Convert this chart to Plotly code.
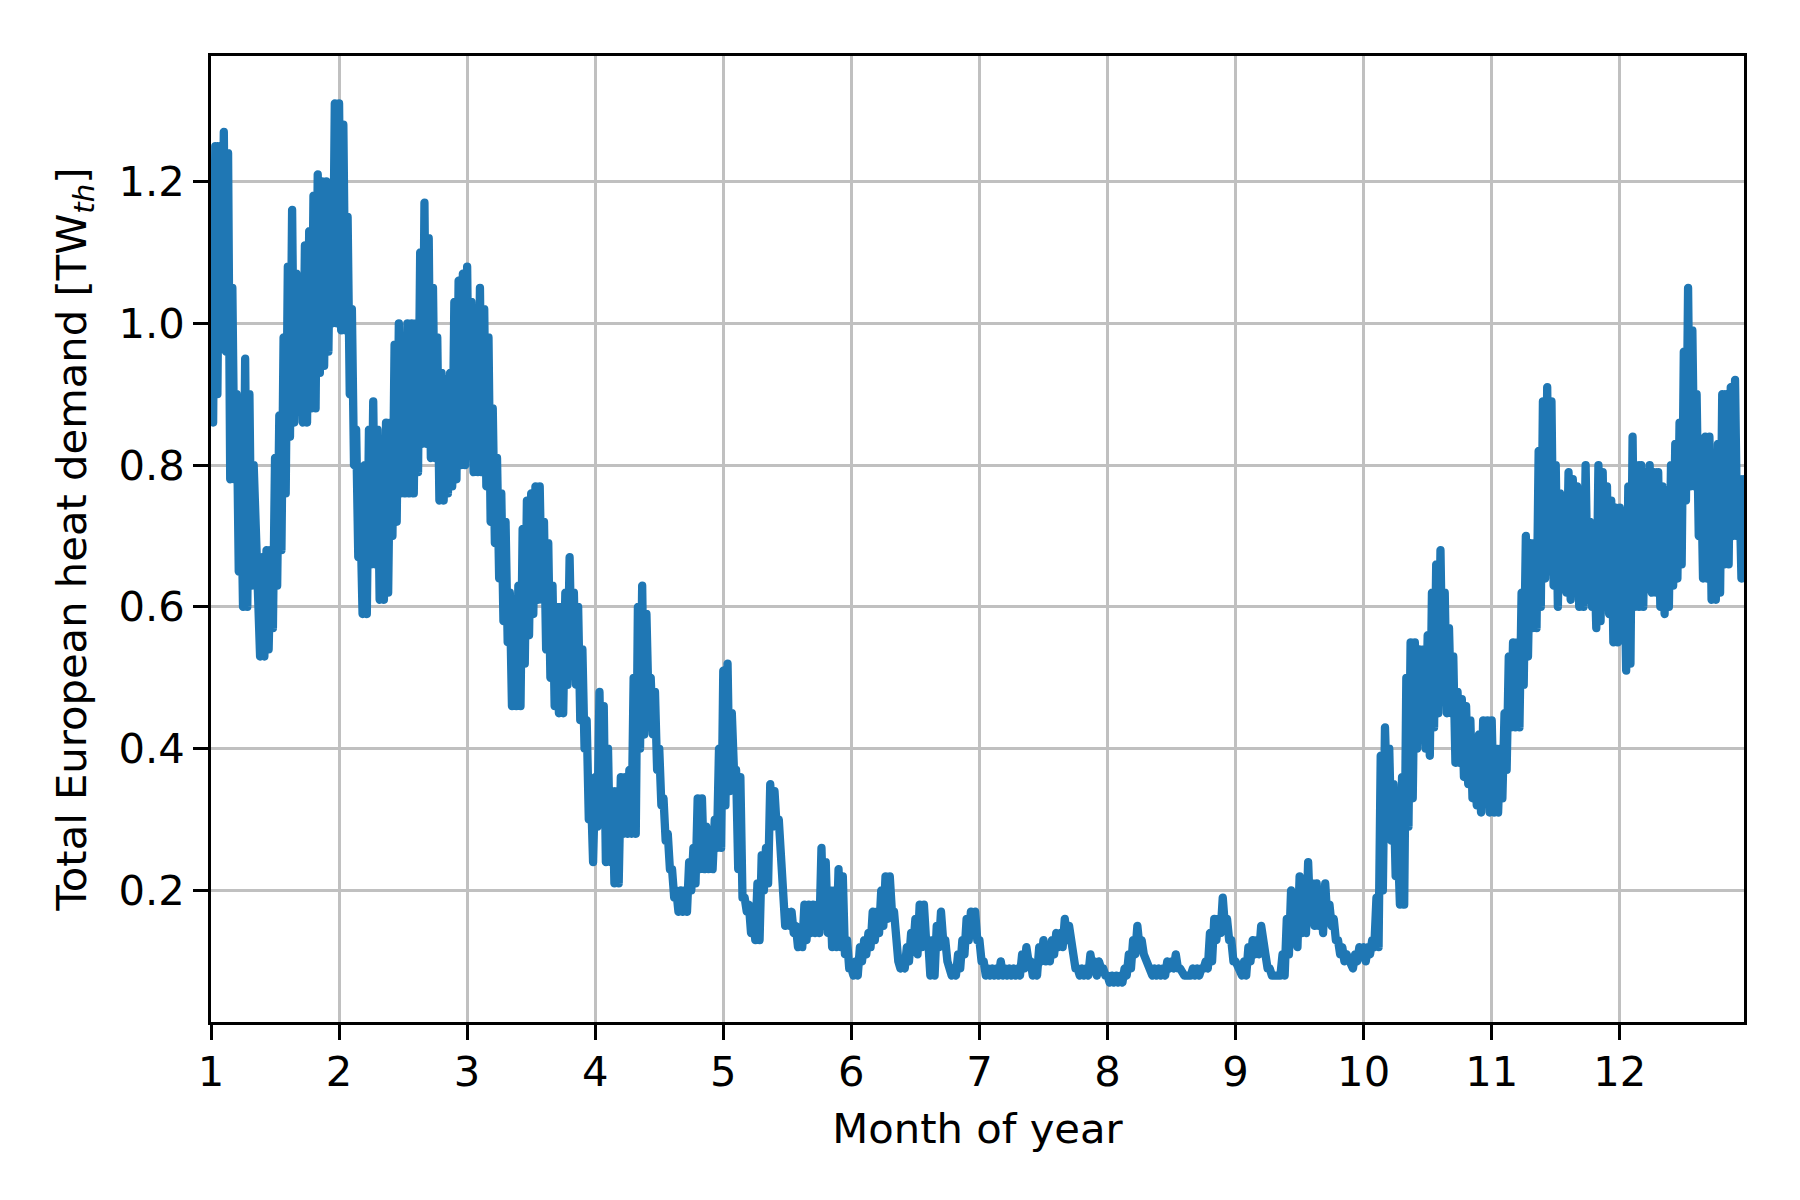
import plotly.graph_objects as go

# Total European heat demand [TW_th]:
# for every day (30 per month) the daily high and the daily low.
jan_hi = [1.07, 1.25, 1.25, 1.27, 1.24, 1.05, 0.90, 0.80, 0.95, 0.90,
          0.80, 0.67, 0.67, 0.68, 0.68, 0.81, 0.87, 0.98, 1.08, 1.16,
          1.07, 1.04, 1.11, 1.13, 1.18, 1.21, 1.20, 1.20, 1.19, 1.31]
jan_lo = [0.86, 0.90, 0.97, 0.96, 0.78, 0.78, 0.65, 0.60, 0.60, 0.63,
          0.68, 0.53, 0.53, 0.54, 0.57, 0.63, 0.68, 0.76, 0.84, 0.86,
          0.91, 0.86, 0.86, 0.88, 0.88, 0.93, 0.94, 0.96, 1.00, 1.00]
feb_hi = [1.31, 1.28, 1.15, 1.02, 0.85, 0.73, 0.80, 0.85, 0.89, 0.85,
          0.82, 0.86, 0.86, 0.97, 1.00, 0.98, 1.00, 1.00, 1.00, 1.10,
          1.17, 1.12, 1.05, 0.98, 0.93, 0.92, 0.93, 1.03, 1.06, 1.07]
feb_lo = [0.99, 0.99, 0.90, 0.80, 0.67, 0.59, 0.59, 0.66, 0.66, 0.61,
          0.61, 0.62, 0.70, 0.72, 0.76, 0.76, 0.76, 0.76, 0.79, 0.83,
          0.83, 0.81, 0.81, 0.75, 0.75, 0.76, 0.77, 0.78, 0.80, 0.80]
mar_hi = [1.08, 1.03, 0.95, 1.05, 1.02, 0.98, 0.88, 0.81, 0.76, 0.72,
          0.62, 0.59, 0.63, 0.71, 0.75, 0.76, 0.77, 0.77, 0.72, 0.69,
          0.63, 0.60, 0.60, 0.62, 0.67, 0.62, 0.60, 0.54, 0.44, 0.34]
mar_lo = [0.82, 0.79, 0.79, 0.79, 0.77, 0.72, 0.69, 0.64, 0.58, 0.55,
          0.46, 0.46, 0.46, 0.52, 0.56, 0.59, 0.61, 0.61, 0.54, 0.50,
          0.46, 0.45, 0.45, 0.49, 0.52, 0.49, 0.44, 0.40, 0.30, 0.24]
apr_hi = [0.36, 0.48, 0.46, 0.40, 0.34, 0.34, 0.36, 0.36, 0.37, 0.50,
          0.60, 0.63, 0.59, 0.50, 0.48, 0.40, 0.33, 0.28, 0.23, 0.20,
          0.20, 0.20, 0.24, 0.26, 0.33, 0.33, 0.29, 0.28, 0.30, 0.40]
apr_lo = [0.29, 0.30, 0.24, 0.24, 0.21, 0.21, 0.28, 0.28, 0.28, 0.28,
          0.40, 0.42, 0.46, 0.42, 0.37, 0.32, 0.27, 0.23, 0.19, 0.17,
          0.17, 0.17, 0.20, 0.21, 0.23, 0.23, 0.23, 0.23, 0.26, 0.26]
may_hi = [0.51, 0.52, 0.45, 0.37, 0.36, 0.19, 0.18, 0.17, 0.21, 0.25,
          0.26, 0.35, 0.34, 0.30, 0.21, 0.17, 0.17, 0.15, 0.14, 0.18,
          0.18, 0.18, 0.18, 0.26, 0.24, 0.20, 0.20, 0.23, 0.22, 0.13]
may_lo = [0.32, 0.34, 0.37, 0.23, 0.19, 0.17, 0.14, 0.13, 0.13, 0.20,
          0.21, 0.29, 0.29, 0.25, 0.15, 0.15, 0.14, 0.12, 0.12, 0.13,
          0.14, 0.14, 0.14, 0.15, 0.14, 0.12, 0.12, 0.12, 0.11, 0.09]
jun_hi = [0.09, 0.10, 0.12, 0.13, 0.14, 0.17, 0.17, 0.20, 0.22, 0.22,
          0.17, 0.10, 0.10, 0.12, 0.14, 0.16, 0.18, 0.18, 0.13, 0.13,
          0.15, 0.17, 0.13, 0.09, 0.09, 0.11, 0.13, 0.16, 0.17, 0.17]
jun_lo = [0.08, 0.08, 0.10, 0.11, 0.12, 0.13, 0.14, 0.15, 0.16, 0.17,
          0.12, 0.09, 0.09, 0.10, 0.12, 0.11, 0.12, 0.13, 0.08, 0.08,
          0.12, 0.13, 0.10, 0.08, 0.08, 0.09, 0.11, 0.13, 0.14, 0.13]
jul_hi = [0.13, 0.10, 0.09, 0.09, 0.09, 0.10, 0.09, 0.09, 0.09, 0.09,
          0.11, 0.12, 0.10, 0.09, 0.12, 0.13, 0.12, 0.13, 0.14, 0.14,
          0.16, 0.15, 0.11, 0.09, 0.09, 0.09, 0.11, 0.10, 0.10, 0.09]
jul_lo = [0.10, 0.08, 0.08, 0.08, 0.08, 0.08, 0.08, 0.08, 0.08, 0.08,
          0.09, 0.10, 0.08, 0.08, 0.10, 0.10, 0.10, 0.11, 0.12, 0.12,
          0.13, 0.12, 0.09, 0.08, 0.08, 0.08, 0.09, 0.08, 0.09, 0.08]
aug_hi = [0.08, 0.08, 0.08, 0.08, 0.09, 0.11, 0.13, 0.15, 0.13, 0.10,
          0.09, 0.09, 0.09, 0.09, 0.10, 0.10, 0.11, 0.09, 0.08, 0.08,
          0.09, 0.09, 0.09, 0.10, 0.14, 0.16, 0.16, 0.19, 0.16, 0.13]
aug_lo = [0.07, 0.07, 0.07, 0.07, 0.08, 0.09, 0.11, 0.12, 0.11, 0.09,
          0.08, 0.08, 0.08, 0.08, 0.09, 0.09, 0.09, 0.08, 0.08, 0.08,
          0.08, 0.08, 0.09, 0.09, 0.10, 0.13, 0.14, 0.15, 0.13, 0.10]
sep_hi = [0.10, 0.09, 0.10, 0.12, 0.13, 0.13, 0.15, 0.11, 0.09, 0.08,
          0.08, 0.11, 0.16, 0.20, 0.16, 0.22, 0.20, 0.24, 0.21, 0.21,
          0.19, 0.21, 0.18, 0.16, 0.13, 0.12, 0.11, 0.10, 0.11, 0.12]
sep_lo = [0.09, 0.08, 0.08, 0.10, 0.11, 0.11, 0.12, 0.09, 0.08, 0.08,
          0.08, 0.08, 0.11, 0.13, 0.12, 0.14, 0.14, 0.16, 0.15, 0.15,
          0.14, 0.16, 0.15, 0.13, 0.11, 0.10, 0.10, 0.09, 0.10, 0.11]
oct_hi = [0.12, 0.12, 0.13, 0.19, 0.39, 0.43, 0.40, 0.35, 0.27, 0.36,
          0.50, 0.55, 0.55, 0.54, 0.54, 0.56, 0.62, 0.66, 0.68, 0.62,
          0.57, 0.53, 0.48, 0.47, 0.46, 0.44, 0.40, 0.42, 0.44, 0.44]
oct_lo = [0.10, 0.11, 0.12, 0.12, 0.20, 0.33, 0.27, 0.22, 0.18, 0.18,
          0.29, 0.33, 0.40, 0.43, 0.40, 0.39, 0.43, 0.45, 0.49, 0.45,
          0.45, 0.38, 0.38, 0.36, 0.35, 0.33, 0.32, 0.31, 0.33, 0.31]
nov_hi = [0.44, 0.40, 0.40, 0.45, 0.53, 0.55, 0.55, 0.62, 0.70, 0.69,
          0.69, 0.82, 0.89, 0.91, 0.89, 0.80, 0.76, 0.74, 0.79, 0.78,
          0.77, 0.76, 0.80, 0.72, 0.68, 0.80, 0.79, 0.77, 0.75, 0.74]
nov_lo = [0.31, 0.31, 0.33, 0.37, 0.43, 0.43, 0.43, 0.49, 0.53, 0.57,
          0.57, 0.60, 0.64, 0.65, 0.63, 0.60, 0.63, 0.62, 0.61, 0.62,
          0.60, 0.60, 0.61, 0.60, 0.57, 0.58, 0.60, 0.59, 0.55, 0.55]
dec_hi = [0.74, 0.68, 0.77, 0.84, 0.80, 0.80, 0.79, 0.80, 0.79, 0.79,
          0.77, 0.76, 0.80, 0.83, 0.86, 0.96, 1.05, 0.99, 0.90, 0.81,
          0.84, 0.84, 0.78, 0.83, 0.90, 0.90, 0.91, 0.92, 0.78, 0.78]
dec_lo = [0.56, 0.51, 0.52, 0.60, 0.60, 0.60, 0.63, 0.62, 0.62, 0.60,
          0.59, 0.60, 0.63, 0.64, 0.66, 0.75, 0.77, 0.77, 0.70, 0.64,
          0.64, 0.61, 0.61, 0.62, 0.66, 0.66, 0.70, 0.70, 0.64, 0.64]

daily_high = [jan_hi, feb_hi, mar_hi, apr_hi, may_hi, jun_hi,
              jul_hi, aug_hi, sep_hi, oct_hi, nov_hi, dec_hi]
daily_low = [jan_lo, feb_lo, mar_lo, apr_lo, may_lo, jun_lo,
             jul_lo, aug_lo, sep_lo, oct_lo, nov_lo, dec_lo]
month_ticks = list(range(1, 13))
demand_ticks = [0.2, 0.4, 0.6, 0.8, 1.0, 1.2]

# Time axis in "month of year": high half of each day, then low half
x_vals, y_vals = [], []
for m, (his, los) in enumerate(zip(daily_high, daily_low), start=1):
    n = len(his)
    for k in range(n):
        x_vals.append(m + k / n)
        y_vals.append(his[k])
        x_vals.append(m + (k + 0.5) / n)
        y_vals.append(los[k])

FONT = "DejaVu Sans"
FS = 41.7

fig = go.Figure()
fig.add_trace(go.Scatter(
    x=x_vals, y=y_vals, mode="lines",
    line=dict(color="#1f77b4", width=8.3),
    showlegend=False, hoverinfo="skip",
))

axis_common = dict(
    showline=True, linecolor="black", linewidth=3.3, mirror=True,
    ticks="outside", ticklen=14.6, tickwidth=3.3, tickcolor="black",
    showgrid=True, gridcolor="#c0c0c0", gridwidth=3.3, zeroline=False,
    tickfont=dict(family=FONT, size=FS, color="black"),
    automargin=False,
)

fig.update_layout(
    width=1800, height=1200,
    margin=dict(l=203, r=64, t=48, b=186, pad=0),
    paper_bgcolor="white", plot_bgcolor="white",
    font=dict(family=FONT, size=FS, color="black"),
    xaxis=dict(
        range=[1, 12.97], tickvals=month_ticks,
        ticktext=[str(t) for t in month_ticks],
        ticklabelstandoff=-4,
        title=dict(text="Month of year", font=dict(family=FONT, size=FS), standoff=20),
        **axis_common,
    ),
    yaxis=dict(
        range=[0.0145, 1.377], tickvals=demand_ticks,
        ticktext=[f"{t:.1f}" for t in demand_ticks],
        title=dict(text="Total European heat demand [TW<sub><i>th</i></sub>]",
                   font=dict(family=FONT, size=FS), standoff=20),
        **axis_common,
    ),
)

post = ("document.querySelectorAll('.scatterlayer .js-line').forEach(function(p){"
        "p.style.strokeLinejoin='round';p.style.strokeLinecap='round';});")
fig.write_html("out.html", post_script=post)
